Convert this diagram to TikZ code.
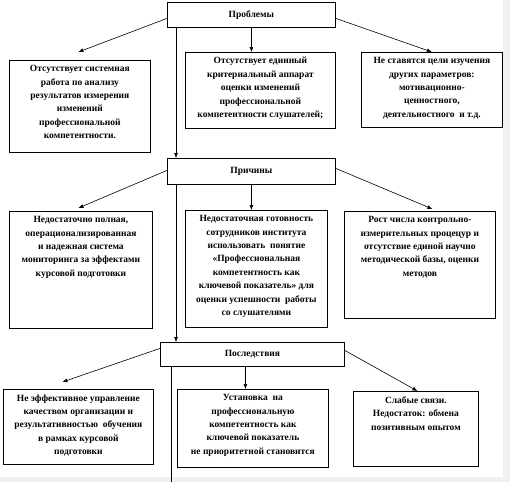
\documentclass[tikz,border=0pt]{standalone}
\usepackage{fontspec}
\setmainfont{Liberation Serif}
\usepackage{tikz}
\usetikzlibrary{positioning}
\usetikzlibrary{arrows.meta}

\newcommand{\boxtxt}[3]{\parbox[c][#2][t]{#1}{\centering\vspace{5pt}#3}}

\tikzset{
  box/.style={draw, line width=0.8pt, inner sep=0pt, anchor=north west,
    font=\fontsize{9.5}{13.4}\selectfont\bfseries},
  link/.style={-{Latex[length=5pt,width=4pt]}, line width=0.6pt},
}

\begin{document}
\begin{tikzpicture}[x=1pt,y=-1pt]
        \useasboundingbox (0,0) rectangle (510,482);
        \fill[gray!12] (0,0) rectangle (510,482);
        \fill[white] (0,0) rectangle (503,477);

        % Problems
        \node[box,minimum width=168pt,minimum height=25pt] (PR) at (167,2) {Проблемы};
        \node[box] (PR1) at (9,60) {\boxtxt{141pt}{92pt}{Отсутствует системная\\ работа по анализу\\ результатов измерения\\ изменений\\ профессиональной\\ компетентности.}};
        \node[box] (PR2) at (185,52) {\boxtxt{150pt}{76pt}{Отсутствует единный\\ критериальный аппарат\\ оценки изменений\\ профессиональной\\ компетентности слушателей;}};
        \node[box] (PR3) at (361,52) {\boxtxt{141pt}{75pt}{Не ставятся цели изучения\\ других параметров:\\ мотивационно-\\ ценностного,\\ деятельностного~ и т.д.}};

        % Causes
        \node[box,minimum width=168pt,minimum height=26pt] (CA) at (167,158) {Причины};
        \node[box] (CA1) at (9,211) {\boxtxt{143pt}{117pt}{Недостаточно полная,\\ операционализированная\\ и надежная система\\ мониторинга за эффектами\\ курсовой подготовки}};
        \node[box] (CA2) at (185,210) {\boxtxt{142pt}{117pt}{Недостаточная готовность\\ сотрудников института\\ использовать~ понятие\\ «Профессиональная\\ компетентность как\\ ключевой показатель» для\\ оценки успешности~ работы\\ со слушателями}};
        \node[box] (CA3) at (344,211) {\boxtxt{151pt}{107pt}{Рост числа контрольно-\\ измерительных процецур и\\ отсутствие единой научно\\ методической базы, оценки\\ методов}};

        % Consequences
        \node[box,minimum width=184pt,minimum height=24pt] (CO) at (160,342) {Последствия};
        \node[box] (CO1) at (3,389) {\boxtxt{150pt}{75pt}{Не эффективное управление\\ качеством организации и\\ результативностью~ обучения\\ в рамках курсовой\\ подготовки}};
        \node[box] (CO2) at (177,389) {\boxtxt{151pt}{78pt}{Установка~ на\\ профессиональную\\ компетентность как\\ ключевой показатель\\ не приоритетной становится}};
        \node[box] (CO3) at (353,391) {\boxtxt{125pt}{75pt}{Слабые связи.\\ Недостаток: обмена\\ позитивным опытом}};
        \coordinate (END) at (171,482);

        \draw[link] ([yshift=-3.5pt]PR.west) -- ([xshift=-1.5pt,yshift=8pt]PR1.north);
        \draw[link] (PR.south) -- (PR.south |- PR2.north);
        \draw[link] ([yshift=-3.5pt]PR.east) -- (PR3.north);
        \draw[link] ([xshift=9pt]PR.south west) -- ([xshift=9pt]CA.north west);

        \draw[link] ([yshift=1pt]CA.west) -- ([xshift=-2.5pt,yshift=3pt]CA1.north);
        \draw[link] (CA.south) -- (CA.south |- CA2.north);
        \draw[link] ([yshift=3pt]CA.east) -- ([xshift=12.5pt,yshift=2pt]CA3.north);
        \draw[link] ([xshift=9pt]CA.south west) -- ([xshift=16pt]CO.north west);

        \draw[link] ([yshift=6pt]CO.west) -- ([xshift=-16pt,yshift=7pt]CO1.north);
        \draw[link] ([xshift=-7pt]CO.south) -- ([xshift=-7pt]CO.south |- CO2.north);
        \draw[link] ([yshift=4pt]CO.east) -- ([xshift=1.5pt]CO3.north);
        \draw[line width=0.6pt] ([xshift=11pt]CO.south west) -- (END);
      \end{tikzpicture}
\end{document}
